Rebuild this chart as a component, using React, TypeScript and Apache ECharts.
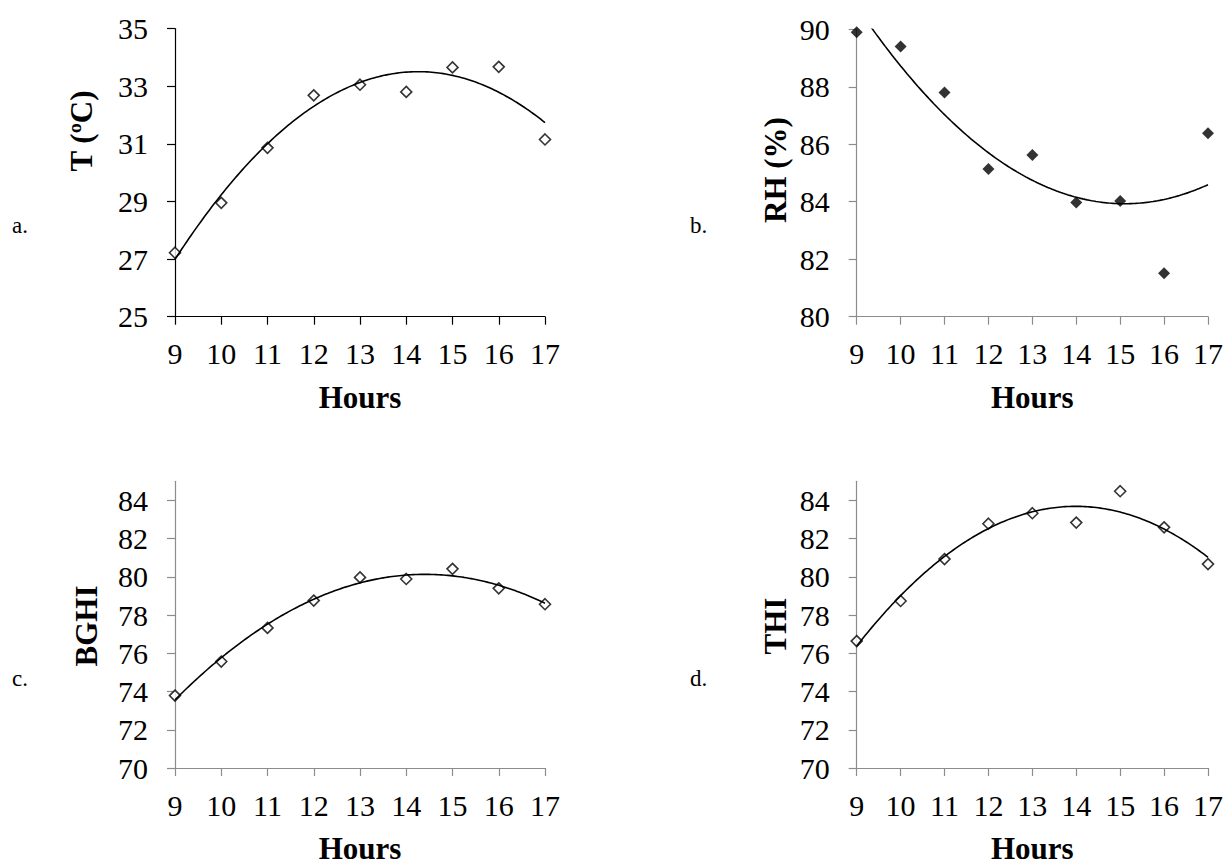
import React, { useEffect, useRef } from "react";
import * as echarts from "echarts";

const hours = [9, 10, 11, 12, 13, 14, 15, 16, 17];
const tempValues = [27.22, 28.95, 30.86, 32.68, 33.05, 32.8, 33.65, 33.67, 31.15];
const rhValues = [89.9, 89.4, 87.8, 85.14, 85.63, 83.97, 84.03, 81.51, 86.38];
const bghiValues = [73.79, 75.57, 77.33, 78.76, 79.97, 79.89, 80.42, 79.4, 78.57];
const thiValues = [76.64, 78.74, 80.93, 82.78, 83.33, 82.84, 84.48, 82.59, 80.67];

const tempTicks = [25, 27, 29, 31, 33, 35];
const rhTicks = [80, 82, 84, 86, 88, 90];
const indexTicks = [70, 72, 74, 76, 78, 80, 82, 84];

const SERIF = "'Liberation Serif', 'Times New Roman', serif";

// least-squares 2nd order polynomial trendline (as in the spreadsheet)
function polyFit2(xs: number[], ys: number[]) {
  const n = xs.length;
  let s1 = 0, s2 = 0, s3 = 0, s4 = 0, t0 = 0, t1 = 0, t2 = 0;
  for (let i = 0; i < n; i++) {
    const x = xs[i], y = ys[i];
    s1 += x; s2 += x * x; s3 += x * x * x; s4 += x * x * x * x;
    t0 += y; t1 += x * y; t2 += x * x * y;
  }
  const M = [
    [n, s1, s2, t0],
    [s1, s2, s3, t1],
    [s2, s3, s4, t2],
  ];
  for (let c = 0; c < 3; c++) {
    let p = c;
    for (let r = c + 1; r < 3; r++) if (Math.abs(M[r][c]) > Math.abs(M[p][c])) p = r;
    [M[c], M[p]] = [M[p], M[c]];
    for (let r = 0; r < 3; r++) {
      if (r === c) continue;
      const f = M[r][c] / M[c][c];
      for (let k = c; k < 4; k++) M[r][k] -= f * M[c][k];
    }
  }
  const a0 = M[0][3] / M[0][0], a1 = M[1][3] / M[1][1], a2 = M[2][3] / M[2][2];
  return (x: number) => a0 + a1 * x + a2 * x * x;
}

function trend(xs: number[], ys: number[]) {
  const f = polyFit2(xs, ys);
  const out: number[][] = [];
  const lo = xs[0], hi = xs[xs.length - 1];
  const steps = 160;
  for (let i = 0; i <= steps; i++) {
    const x = lo + ((hi - lo) * i) / steps;
    out.push([x, f(x)]);
  }
  return out;
}

const BLACK_AXIS = "#000000";
const GRAY_AXIS = "#8c8c8c";

function xAxisCfg(gridIndex: number, color: string) {
  return {
    type: "value",
    gridIndex,
    min: 9,
    max: 17,
    interval: 1,
    name: "Hours",
    nameLocation: "middle",
    nameGap: 65,
    nameTextStyle: { fontFamily: SERIF, fontSize: 31, fontWeight: "bold", color: "#000" },
    axisLine: { show: true, onZero: false, lineStyle: { color, width: 1.2 } },
    axisTick: { show: true, length: 8, inside: false, lineStyle: { color, width: 1.2 } },
    axisLabel: { margin: 22, fontFamily: SERIF, fontSize: 30, color: "#000" },
    splitLine: { show: false },
  };
}

function yAxisCfg(gridIndex: number, color: string, min: number, max: number, ticks: number[]) {
  return {
    type: "value",
    gridIndex,
    min,
    max,
    interval: 2,
    axisLine: { show: true, onZero: false, lineStyle: { color, width: 1.2 } },
    axisTick: { show: true, length: 8, inside: false, customValues: ticks, lineStyle: { color, width: 1.2 } },
    axisLabel: {
      margin: 27,
      fontFamily: SERIF,
      fontSize: 30,
      color: "#000",
      customValues: ticks,
      formatter: (v: number) => (ticks.indexOf(v) >= 0 ? String(v) : ""),
    },
    splitLine: { show: false },
  };
}

function scatterSeries(idx: number, ys: number[], filled: boolean) {
  return {
    type: "scatter",
    xAxisIndex: idx,
    yAxisIndex: idx,
    data: hours.map((h, i) => [h, ys[i]]),
    symbol: "diamond",
    symbolSize: filled ? 12 : 11,
    itemStyle: {
      color: filled ? "#000" : "#fff",
      borderColor: "#000",
      borderWidth: filled ? 0 : 1.6,
    },
    z: 2,
  };
}

function trendSeries(idx: number, ys: number[]) {
  return {
    type: "line",
    xAxisIndex: idx,
    yAxisIndex: idx,
    data: trend(hours, ys),
    showSymbol: false,
    symbol: "none",
    clip: true,
    lineStyle: { color: "#000", width: 1.6 },
    z: 3,
  };
}

function rotTitle(text: string, x: number, y: number) {
  return {
    type: "text",
    x,
    y,
    rotation: Math.PI / 2,
    style: {
      text,
      fontFamily: SERIF,
      fontSize: 31,
      fontWeight: "bold",
      fill: "#000",
      align: "center",
      verticalAlign: "middle",
    },
  };
}

function panelLabel(text: string, x: number, y: number) {
  return {
    type: "text",
    x,
    y,
    style: {
      text,
      fontFamily: SERIF,
      fontSize: 23,
      fill: "#000",
      align: "left",
      verticalAlign: "middle",
    },
  };
}

export default function App() {
  const ref = useRef<HTMLDivElement>(null);
  useEffect(() => {
    if (!ref.current) return;
    const chart = echarts.init(ref.current, undefined, { renderer: "svg" });
    chart.setOption({
      animation: false,
      backgroundColor: "#ffffff",
      grid: [
        { left: 175, top: 28.5, width: 370, height: 288.2 },
        { left: 856.7, top: 29.3, width: 353.6, height: 287.4 },
        { left: 175, top: 481.3, width: 370, height: 289.4 },
        { left: 856.7, top: 481.3, width: 353.6, height: 289.4 },
      ],
      xAxis: [
        xAxisCfg(0, BLACK_AXIS),
        xAxisCfg(1, GRAY_AXIS),
        xAxisCfg(2, GRAY_AXIS),
        xAxisCfg(3, GRAY_AXIS),
      ],
      yAxis: [
        yAxisCfg(0, BLACK_AXIS, 25, 35, tempTicks),
        yAxisCfg(1, GRAY_AXIS, 80, 90, rhTicks),
        yAxisCfg(2, GRAY_AXIS, 70, 85, indexTicks),
        yAxisCfg(3, GRAY_AXIS, 70, 85, indexTicks),
      ],
      series: [
        scatterSeries(0, tempValues, false),
        trendSeries(0, tempValues),
        scatterSeries(1, rhValues, true),
        trendSeries(1, rhValues),
        scatterSeries(2, bghiValues, false),
        trendSeries(2, bghiValues),
        scatterSeries(3, thiValues, false),
        trendSeries(3, thiValues),
      ],
      graphic: [
        rotTitle("T (ºC)", 81, 131),
        rotTitle("RH (%)", 775, 170),
        rotTitle("BGHI", 86, 626),
        rotTitle("THI", 775, 626),
        panelLabel("a.", 12, 225),
        panelLabel("b.", 690, 225),
        panelLabel("c.", 12, 678),
        panelLabel("d.", 690, 678),
      ],
    });
    return () => chart.dispose();
  }, []);
  return (
    <div
      ref={ref}
      style={{ position: "absolute", left: 0, top: 0, width: 1226, height: 865, background: "#fff" }}
    />
  );
}
